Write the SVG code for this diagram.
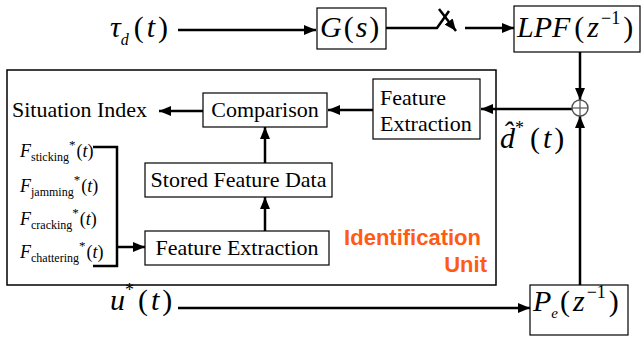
<svg xmlns="http://www.w3.org/2000/svg" width="641" height="338" viewBox="0 0 641 338">
<style>
.box{fill:#fff;stroke:#000;stroke-width:1.2}
.ln{fill:none;stroke:#000;stroke-width:2.5}
.t{font-family:'Liberation Serif','Times New Roman','DejaVu Serif',serif;font-size:22px;fill:#000}
.m{font-family:'Liberation Serif','Times New Roman','DejaVu Serif',serif;font-size:30px;fill:#000}
.f{font-family:'Liberation Serif','Times New Roman','DejaVu Serif',serif;font-size:18px;fill:#000}
.i{font-style:italic}
.id{font-family:'Liberation Sans',Arial,sans-serif;font-weight:bold;font-size:22px;fill:#FF5B14}
</style>
<defs>
<marker id="ah" markerUnits="userSpaceOnUse" markerWidth="12" markerHeight="10" refX="12" refY="5" orient="auto">
<path d="M0,0 L12,5 L0,10 z" fill="#000"/>
</marker>
</defs>
<rect x="0" y="0" width="641" height="338" fill="#fff"/>

<g id="unit">
<rect x="7" y="70" width="489" height="215" fill="none" stroke="#000" stroke-width="1.5"/>
<text class="id" x="481" y="245" text-anchor="end">Identification</text>
<text class="id" x="487" y="272" text-anchor="end">Unit</text>
</g>

<g id="connectors">
<line class="ln" x1="178" y1="30" x2="316" y2="30" marker-end="url(#ah)"/>
<polyline class="ln" points="386,28 437,28 449,11" stroke-width="2"/>
<line class="ln" x1="439" y1="9" x2="456" y2="31" stroke-width="2" marker-end="url(#ah)"/>
<line class="ln" x1="465" y1="28" x2="514" y2="28" marker-end="url(#ah)"/>
<line class="ln" x1="580" y1="52" x2="580" y2="100" marker-end="url(#ah)"/>
<line class="ln" x1="580" y1="285" x2="580" y2="116" marker-end="url(#ah)"/>
<line class="ln" x1="572" y1="109" x2="481" y2="109" marker-end="url(#ah)"/>
<line class="ln" x1="373" y1="110" x2="328" y2="110" marker-end="url(#ah)"/>
<line class="ln" x1="203" y1="111" x2="159" y2="111" marker-end="url(#ah)"/>
<line class="ln" x1="265" y1="163" x2="265" y2="127" marker-end="url(#ah)"/>
<line class="ln" x1="265" y1="231" x2="265" y2="197" marker-end="url(#ah)"/>
<polyline class="ln" points="93,147 117,147 117,266 93,266" stroke-width="3"/>
<line class="ln" x1="117" y1="247" x2="145" y2="247" marker-end="url(#ah)"/>
<line class="ln" x1="178" y1="308" x2="530" y2="308" marker-end="url(#ah)"/>
</g>

<g id="sum">
<circle cx="580" cy="108" r="8" fill="#fff" stroke="#555" stroke-width="1.5"/>
<line x1="572" y1="108" x2="588" y2="108" stroke="#555" stroke-width="1.2"/>
<line x1="580" y1="100" x2="580" y2="116" stroke="#555" stroke-width="1.2"/>
</g>

<g id="G">
<rect class="box" x="317" y="8" width="69" height="41"/>
<text class="m" x="320" y="37"><tspan class="i">G</tspan><tspan dx="2">(</tspan><tspan class="i" dx="2">s</tspan><tspan dx="2">)</tspan></text>
</g>

<g id="LPF">
<rect class="box" x="514" y="6" width="126" height="46"/>
<text class="m" x="517" y="37"><tspan class="i">LPF</tspan><tspan dx="4">(</tspan><tspan class="i" dx="3">z</tspan><tspan dx="2" dy="-13" font-size="18">−1</tspan><tspan dx="3" dy="13">)</tspan></text>
</g>

<g id="Pe">
<rect class="box" x="530" y="285" width="98" height="50"/>
<text class="m" x="533" y="311"><tspan class="i">P</tspan><tspan class="i" dy="7" font-size="15">e</tspan><tspan dx="2" dy="-7">(</tspan><tspan class="i" dx="3">z</tspan><tspan dx="2" dy="-13" font-size="18">−1</tspan><tspan dx="3" dy="13">)</tspan></text>
</g>

<g id="fe_right">
<rect class="box" x="373" y="79" width="107" height="60"/>
<text class="t" x="380" y="105">Feature</text>
<text class="t" x="380" y="131">Extraction</text>
</g>

<g id="comparison">
<rect class="box" x="203" y="93" width="124" height="34"/>
<text class="t" x="265" y="117" text-anchor="middle">Comparison</text>
</g>

<g id="stored">
<rect class="box" x="145" y="163" width="187" height="34"/>
<text class="t" x="238.5" y="187" text-anchor="middle">Stored Feature Data</text>
</g>

<g id="fe_bottom">
<rect class="box" x="145" y="231" width="184" height="34"/>
<text class="t" x="237" y="255" text-anchor="middle">Feature Extraction</text>
</g>

<g id="labels">
<text class="t" x="12" y="117">Situation Index</text>
<text class="m" x="110" y="37"><tspan class="i">τ</tspan><tspan class="i" dy="8" font-size="16">d</tspan><tspan dx="5" dy="-8">(</tspan><tspan class="i" dx="3">t</tspan><tspan dx="3">)</tspan></text>
<text class="m" x="110" y="310"><tspan class="i">u</tspan><tspan dy="-14" font-size="18">*</tspan><tspan dx="4" dy="14">(</tspan><tspan class="i" dx="3">t</tspan><tspan dx="3">)</tspan></text>
<text class="m" x="500" y="148"><tspan class="i">d̂</tspan><tspan dy="-14" font-size="18">*</tspan><tspan dx="6" dy="14">(</tspan><tspan class="i" dx="3">t</tspan><tspan dx="3">)</tspan></text>
<text class="f" x="20" y="157"><tspan class="i">F</tspan><tspan dy="4" font-size="12">sticking</tspan><tspan dy="-12" font-size="13">*</tspan><tspan dy="8" dx="1">(</tspan><tspan class="i">t</tspan><tspan>)</tspan></text>
<text class="f" x="20" y="192"><tspan class="i">F</tspan><tspan dy="4" font-size="12">jamming</tspan><tspan dy="-12" font-size="13">*</tspan><tspan dy="8" dx="1">(</tspan><tspan class="i">t</tspan><tspan>)</tspan></text>
<text class="f" x="20" y="225"><tspan class="i">F</tspan><tspan dy="4" font-size="12">cracking</tspan><tspan dy="-12" font-size="13">*</tspan><tspan dy="8" dx="1">(</tspan><tspan class="i">t</tspan><tspan>)</tspan></text>
<text class="f" x="20" y="258"><tspan class="i">F</tspan><tspan dy="4" font-size="12">chattering</tspan><tspan dy="-12" font-size="13">*</tspan><tspan dy="8" dx="1">(</tspan><tspan class="i">t</tspan><tspan>)</tspan></text>
</g>
</svg>
